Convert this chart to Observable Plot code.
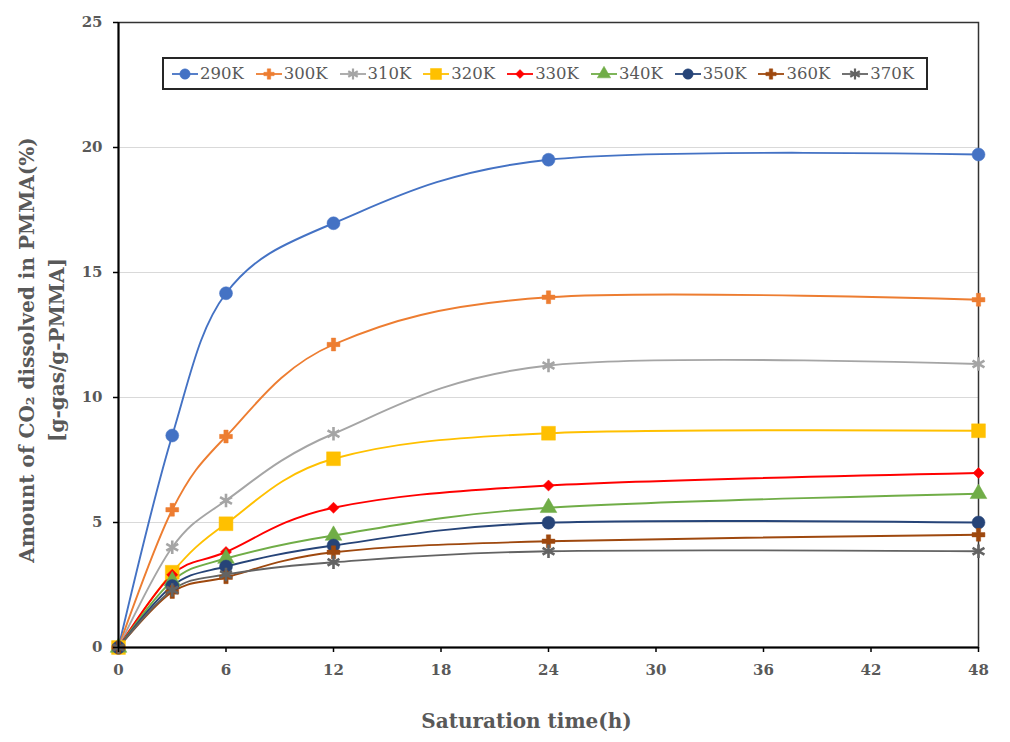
<!DOCTYPE html>
<html>
<head>
<meta charset="utf-8">
<script src="https://cdn.jsdelivr.net/npm/d3@7"></script>
<script src="https://cdn.jsdelivr.net/npm/@observablehq/plot@0.6"></script>
<style>
  html, body { margin: 0; padding: 0; background: #fff; }
  #wrap { position: relative; width: 1010px; height: 742px; }
  #legend {
    position: absolute; left: 162px; top: 57px; width: 754px; height: 29px;
    border: 2px solid #262626; background: #fff;
    display: flex; align-items: center; padding-left: 8px; box-sizing: content-box;
    font-family: "DejaVu Serif", "Liberation Serif", serif; font-size: 16.5px; color: #595959;
  }
  .item { display: flex; align-items: center; width: 85.2px; white-space: nowrap; }
  .item svg { margin-right: 2px; }
</style>
</head>
<body>
<div id="wrap"><div id="legend"></div></div>
<script>
// Saturation time in hours
const hours = [0, 3, 6, 12, 24, 48];

// Temperatures of each sorption series
const temps = ["290K", "300K", "310K", "320K", "330K", "340K", "350K", "360K", "370K"];

// CO2 uptake (%, g-gas/g-PMMA) for each temperature
const k290 = [0, 8.48, 14.17, 16.97, 19.51, 19.72];
const k300 = [0, 5.51, 8.44, 12.12, 14.01, 13.91];
const k310 = [0, 4.01, 5.88, 8.55, 11.28, 11.34];
const k320 = [0, 3.01, 4.95, 7.55, 8.57, 8.67];
const k330 = [0, 2.91, 3.82, 5.59, 6.48, 6.98];
const k340 = [0, 2.66, 3.56, 4.48, 5.59, 6.15];
const k350 = [0, 2.46, 3.24, 4.08, 4.99, 5.00];
const k360 = [0, 2.22, 2.81, 3.81, 4.25, 4.51];
const k370 = [0, 2.30, 2.92, 3.41, 3.85, 3.85];

const values = [k290, k300, k310, k320, k330, k340, k350, k360, k370];

// Tick values
const xTicks = [0, 6, 12, 18, 24, 30, 36, 42, 48];
const yTicks = [0, 5, 10, 15, 20, 25];

// Series styling: colour, marker symbol, marker radius, filled or stroked
const styles = [
  {color: "#4472C4", symbol: "circle",   r: 6.5, fill: true},
  {color: "#ED7D31", symbol: "cross",    r: 5.4, fill: true},
  {color: "#A5A5A5", symbol: "asterisk", r: 6.5, fill: false},
  {color: "#FFC000", symbol: "square",   r: 7.8, fill: true},
  {color: "#FF0000", symbol: "diamond2", r: 5.0, fill: true},
  {color: "#70AD47", symbol: "triangle", r: 6.2, fill: true},
  {color: "#264478", symbol: "circle",   r: 6.5, fill: true},
  {color: "#9E480E", symbol: "cross",    r: 5.4, fill: true},
  {color: "#636363", symbol: "asterisk", r: 6.5, fill: false}
];

const font = "'DejaVu Serif', 'Liberation Serif', serif";
const ink = "#595959";

const marks = [
  Plot.gridY([5, 10, 15, 20], {stroke: "#d9d9d9", strokeOpacity: 1, strokeWidth: 1.2}),
  Plot.frame({stroke: "#333", strokeWidth: 1.5})
];

// Smoothed connecting lines (uniform Catmull-Rom)
temps.forEach((name, i) => {
  const rows = hours.map((t, j) => ({t, v: values[i][j], name}));
  const s = styles[i];
  marks.push(Plot.line(rows, {x: "t", y: "v", curve: "cardinal", tension: 0, stroke: s.color, strokeWidth: 1.9}));
});
// Markers at each measured time
temps.forEach((name, i) => {
  const rows = hours.map((t, j) => ({t, v: values[i][j], name}));
  const s = styles[i];
  marks.push(Plot.dot(rows, {
    x: "t", y: "v", symbol: () => s.symbol, r: s.r,
    fill: s.fill ? s.color : "none",
    stroke: s.color, strokeWidth: s.fill ? 0.5 : 2.6
  }));
});

marks.push(
  Plot.ruleY([0], {stroke: "#000", strokeWidth: 2}),
  Plot.ruleX([0], {stroke: "#000", strokeWidth: 2}),
  Plot.axisY({ticks: yTicks, tickSize: 5, tickPadding: 11, stroke: "#000", strokeWidth: 1.5,
    fill: ink, fontSize: 15, fontWeight: "bold", label: null}),
  Plot.axisX({ticks: xTicks, tickSize: 5, tickPadding: 12, stroke: "#000", strokeWidth: 1.5,
    fill: ink, fontSize: 15, fontWeight: "bold", label: null}),
  Plot.text(["Amount of CO\u2082 dissolved in PMMA(%)\n[g-gas/g-PMMA]"], {
    frameAnchor: "left", textAnchor: "middle", rotate: -90, dx: -79, dy: 15, lineHeight: 1.5,
    fontSize: 20, fontWeight: "bold", fill: ink, fontFamily: font
  }),
  Plot.text(["Saturation time(h)"], {
    frameAnchor: "bottom", dy: 80, dx: -22, fontSize: 20, fontWeight: "bold", fill: ink, fontFamily: font
  })
);

const chart = Plot.plot({
  width: 1010,
  height: 742,
  marginLeft: 118,
  marginRight: 32,
  marginTop: 22,
  marginBottom: 95,
  style: {fontFamily: font, background: "#fff", overflow: "visible"},
  x: {domain: [0, 48]},
  y: {domain: [0, 25]},
  marks
});

const wrap = document.getElementById("wrap");
wrap.insertBefore(chart, wrap.firstChild);

// Legend: line swatch with marker, then label
const legend = document.getElementById("legend");
const symMap = {circle: d3.symbolCircle, cross: d3.symbolCross, asterisk: d3.symbolAsterisk,
  square: d3.symbolSquare, diamond2: d3.symbolDiamond2, triangle: d3.symbolTriangle};
temps.forEach((name, i) => {
  const s = styles[i];
  const item = document.createElement("div");
  item.className = "item";
  const svg = d3.create("svg").attr("width", 26).attr("height", 16);
  svg.append("line").attr("x1", 0).attr("x2", 26).attr("y1", 8).attr("y2", 8)
    .attr("stroke", s.color).attr("stroke-width", 1.8);
  const size = Math.PI * (s.r * 0.8) ** 2;
  svg.append("path").attr("d", d3.symbol(symMap[s.symbol], size)())
    .attr("transform", "translate(13,8)")
    .attr("fill", s.fill ? s.color : "none")
    .attr("stroke", s.color).attr("stroke-width", s.fill ? 0.5 : 2.2);
  item.appendChild(svg.node());
  const label = document.createElement("span");
  label.textContent = name;
  item.appendChild(label);
  legend.appendChild(item);
});
</script>
</body>
</html>
